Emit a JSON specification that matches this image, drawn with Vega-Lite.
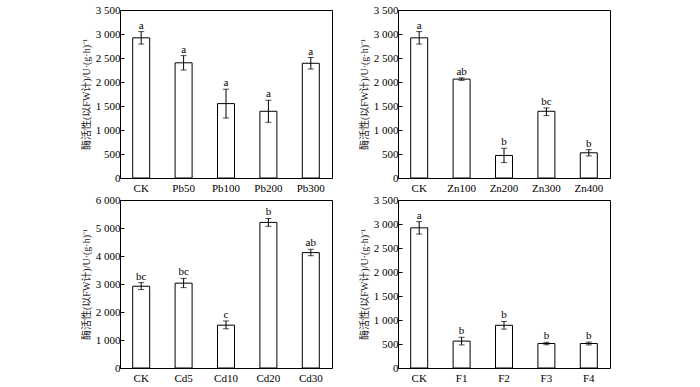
{
  "$schema": "https://vega.github.io/schema/vega-lite/v6.json",
  "padding": {"left": 80, "top": 3, "right": 5, "bottom": 0},
  "background": "white",
  "datasets": {
    "pb": [
      {"g": "CK", "v": 2920, "lo": 2790, "hi": 3050, "s": "a"},
      {"g": "Pb50", "v": 2400, "lo": 2250, "hi": 2550, "s": "a"},
      {"g": "Pb100", "v": 1550, "lo": 1250, "hi": 1850, "s": "a"},
      {"g": "Pb200", "v": 1390, "lo": 1160, "hi": 1620, "s": "a"},
      {"g": "Pb300", "v": 2390, "lo": 2270, "hi": 2510, "s": "a"}
    ],
    "zn": [
      {"g": "CK", "v": 2920, "lo": 2790, "hi": 3050, "s": "a"},
      {"g": "Zn100", "v": 2060, "lo": 2035, "hi": 2085, "s": "ab"},
      {"g": "Zn200", "v": 470, "lo": 320, "hi": 620, "s": "b"},
      {"g": "Zn300", "v": 1390, "lo": 1300, "hi": 1460, "s": "bc"},
      {"g": "Zn400", "v": 525, "lo": 460, "hi": 590, "s": "b"}
    ],
    "cd": [
      {"g": "CK", "v": 2920, "lo": 2800, "hi": 3050, "s": "bc"},
      {"g": "Cd5", "v": 3030, "lo": 2870, "hi": 3200, "s": "bc"},
      {"g": "Cd10", "v": 1530, "lo": 1400, "hi": 1680, "s": "c"},
      {"g": "Cd20", "v": 5200, "lo": 5060, "hi": 5340, "s": "b"},
      {"g": "Cd30", "v": 4120, "lo": 4010, "hi": 4240, "s": "ab"}
    ],
    "f": [
      {"g": "CK", "v": 2920, "lo": 2790, "hi": 3050, "s": "a"},
      {"g": "F1", "v": 560, "lo": 480, "hi": 640, "s": "b"},
      {"g": "F2", "v": 890, "lo": 810, "hi": 970, "s": "b"},
      {"g": "F3", "v": 510, "lo": 485, "hi": 535, "s": "b"},
      {"g": "F4", "v": 510, "lo": 480, "hi": 540, "s": "b"}
    ]
  },
  "columns": 2,
  "bounds": "flush",
  "spacing": {"row": 22, "column": 66},
  "concat": [
    {
      "width": 212, "height": 168,
      "data": {"name": "pb"},
      "encoding": {"x": {"field": "g", "type": "nominal", "sort": null, "title": null, "axis": {"labelAngle": 0, "ticks": false, "domain": false}}},
      "layer": [
        {"mark": {"type": "bar", "fill": "white", "stroke": "black", "strokeWidth": 1, "width": 17},
         "encoding": {"y": {"field": "v", "type": "quantitative", "scale": {"domain": [0, 3500]}, "title": "酶活性(以FW计)/U·(g·h)⁻¹", "axis": {"values": [0, 500, 1000, 1500, 2000, 2500, 3000, 3500]}}}},
        {"mark": {"type": "errorbar", "ticks": {"size": 6, "thickness": 1, "color": "black"}, "rule": {"color": "black", "strokeWidth": 1}},
         "encoding": {"y": {"field": "lo", "type": "quantitative", "title": "酶活性(以FW计)/U·(g·h)⁻¹", "axis": {"values": [0, 500, 1000, 1500, 2000, 2500, 3000, 3500]}}, "y2": {"field": "hi"}}},
        {"mark": {"type": "text", "dy": -3, "baseline": "alphabetic", "font": "Liberation Serif", "fontSize": 11, "color": "black"},
         "encoding": {"y": {"field": "hi", "type": "quantitative", "title": "酶活性(以FW计)/U·(g·h)⁻¹", "axis": {"values": [0, 500, 1000, 1500, 2000, 2500, 3000, 3500]}}, "text": {"field": "s"}}}
      ]
    },
    {
      "width": 212, "height": 168,
      "data": {"name": "zn"},
      "encoding": {"x": {"field": "g", "type": "nominal", "sort": null, "title": null, "axis": {"labelAngle": 0, "ticks": false, "domain": false}}},
      "layer": [
        {"mark": {"type": "bar", "fill": "white", "stroke": "black", "strokeWidth": 1, "width": 17},
         "encoding": {"y": {"field": "v", "type": "quantitative", "scale": {"domain": [0, 3500]}, "title": "酶活性(以FW计)/U·(g·h)⁻¹", "axis": {"values": [0, 500, 1000, 1500, 2000, 2500, 3000, 3500]}}}},
        {"mark": {"type": "errorbar", "ticks": {"size": 6, "thickness": 1, "color": "black"}, "rule": {"color": "black", "strokeWidth": 1}},
         "encoding": {"y": {"field": "lo", "type": "quantitative", "title": "酶活性(以FW计)/U·(g·h)⁻¹", "axis": {"values": [0, 500, 1000, 1500, 2000, 2500, 3000, 3500]}}, "y2": {"field": "hi"}}},
        {"mark": {"type": "text", "dy": -3, "baseline": "alphabetic", "font": "Liberation Serif", "fontSize": 11, "color": "black"},
         "encoding": {"y": {"field": "hi", "type": "quantitative", "title": "酶活性(以FW计)/U·(g·h)⁻¹", "axis": {"values": [0, 500, 1000, 1500, 2000, 2500, 3000, 3500]}}, "text": {"field": "s"}}}
      ]
    },
    {
      "width": 212, "height": 168,
      "data": {"name": "cd"},
      "encoding": {"x": {"field": "g", "type": "nominal", "sort": null, "title": null, "axis": {"labelAngle": 0, "ticks": false, "domain": false}}},
      "layer": [
        {"mark": {"type": "bar", "fill": "white", "stroke": "black", "strokeWidth": 1, "width": 17},
         "encoding": {"y": {"field": "v", "type": "quantitative", "scale": {"domain": [0, 6000]}, "title": "酶活性(以FW计)/U·(g·h)⁻¹", "axis": {"values": [0, 1000, 2000, 3000, 4000, 5000, 6000]}}}},
        {"mark": {"type": "errorbar", "ticks": {"size": 6, "thickness": 1, "color": "black"}, "rule": {"color": "black", "strokeWidth": 1}},
         "encoding": {"y": {"field": "lo", "type": "quantitative", "title": "酶活性(以FW计)/U·(g·h)⁻¹", "axis": {"values": [0, 1000, 2000, 3000, 4000, 5000, 6000]}}, "y2": {"field": "hi"}}},
        {"mark": {"type": "text", "dy": -3, "baseline": "alphabetic", "font": "Liberation Serif", "fontSize": 11, "color": "black"},
         "encoding": {"y": {"field": "hi", "type": "quantitative", "title": "酶活性(以FW计)/U·(g·h)⁻¹", "axis": {"values": [0, 1000, 2000, 3000, 4000, 5000, 6000]}}, "text": {"field": "s"}}}
      ]
    },
    {
      "width": 212, "height": 168,
      "data": {"name": "f"},
      "encoding": {"x": {"field": "g", "type": "nominal", "sort": null, "title": null, "axis": {"labelAngle": 0, "ticks": false, "domain": false}}},
      "layer": [
        {"mark": {"type": "bar", "fill": "white", "stroke": "black", "strokeWidth": 1, "width": 17},
         "encoding": {"y": {"field": "v", "type": "quantitative", "scale": {"domain": [0, 3500]}, "title": "酶活性(以FW计)/U·(g·h)⁻¹", "axis": {"values": [0, 500, 1000, 1500, 2000, 2500, 3000, 3500]}}}},
        {"mark": {"type": "errorbar", "ticks": {"size": 6, "thickness": 1, "color": "black"}, "rule": {"color": "black", "strokeWidth": 1}},
         "encoding": {"y": {"field": "lo", "type": "quantitative", "title": "酶活性(以FW计)/U·(g·h)⁻¹", "axis": {"values": [0, 500, 1000, 1500, 2000, 2500, 3000, 3500]}}, "y2": {"field": "hi"}}},
        {"mark": {"type": "text", "dy": -3, "baseline": "alphabetic", "font": "Liberation Serif", "fontSize": 11, "color": "black"},
         "encoding": {"y": {"field": "hi", "type": "quantitative", "title": "酶活性(以FW计)/U·(g·h)⁻¹", "axis": {"values": [0, 500, 1000, 1500, 2000, 2500, 3000, 3500]}}, "text": {"field": "s"}}}
      ]
    }
  ],
  "config": {
    "view": {"stroke": "black", "strokeWidth": 1},
    "axis": {
      "grid": false,
      "labelFont": "Liberation Serif",
      "labelFontSize": 11,
      "labelColor": "black",
      "labelOverlap": false,
      "titleFont": "'Liberation Serif', 'Noto Sans CJK SC', serif",
      "titleFontSize": 10,
      "titleFontWeight": "normal",
      "titleColor": "#222",
      "domain": false,
      "tickColor": "black",
      "tickWidth": 1
    },
    "axisY": {
      "tickSize": -4,
      "labelPadding": 4,
      "titlePadding": 4,
      "labelFlush": false,
      "labelExpr": "replace(format(datum.value, ','), ',', ' ')"
    },
    "axisX": {"labelPadding": 4}
  }
}
